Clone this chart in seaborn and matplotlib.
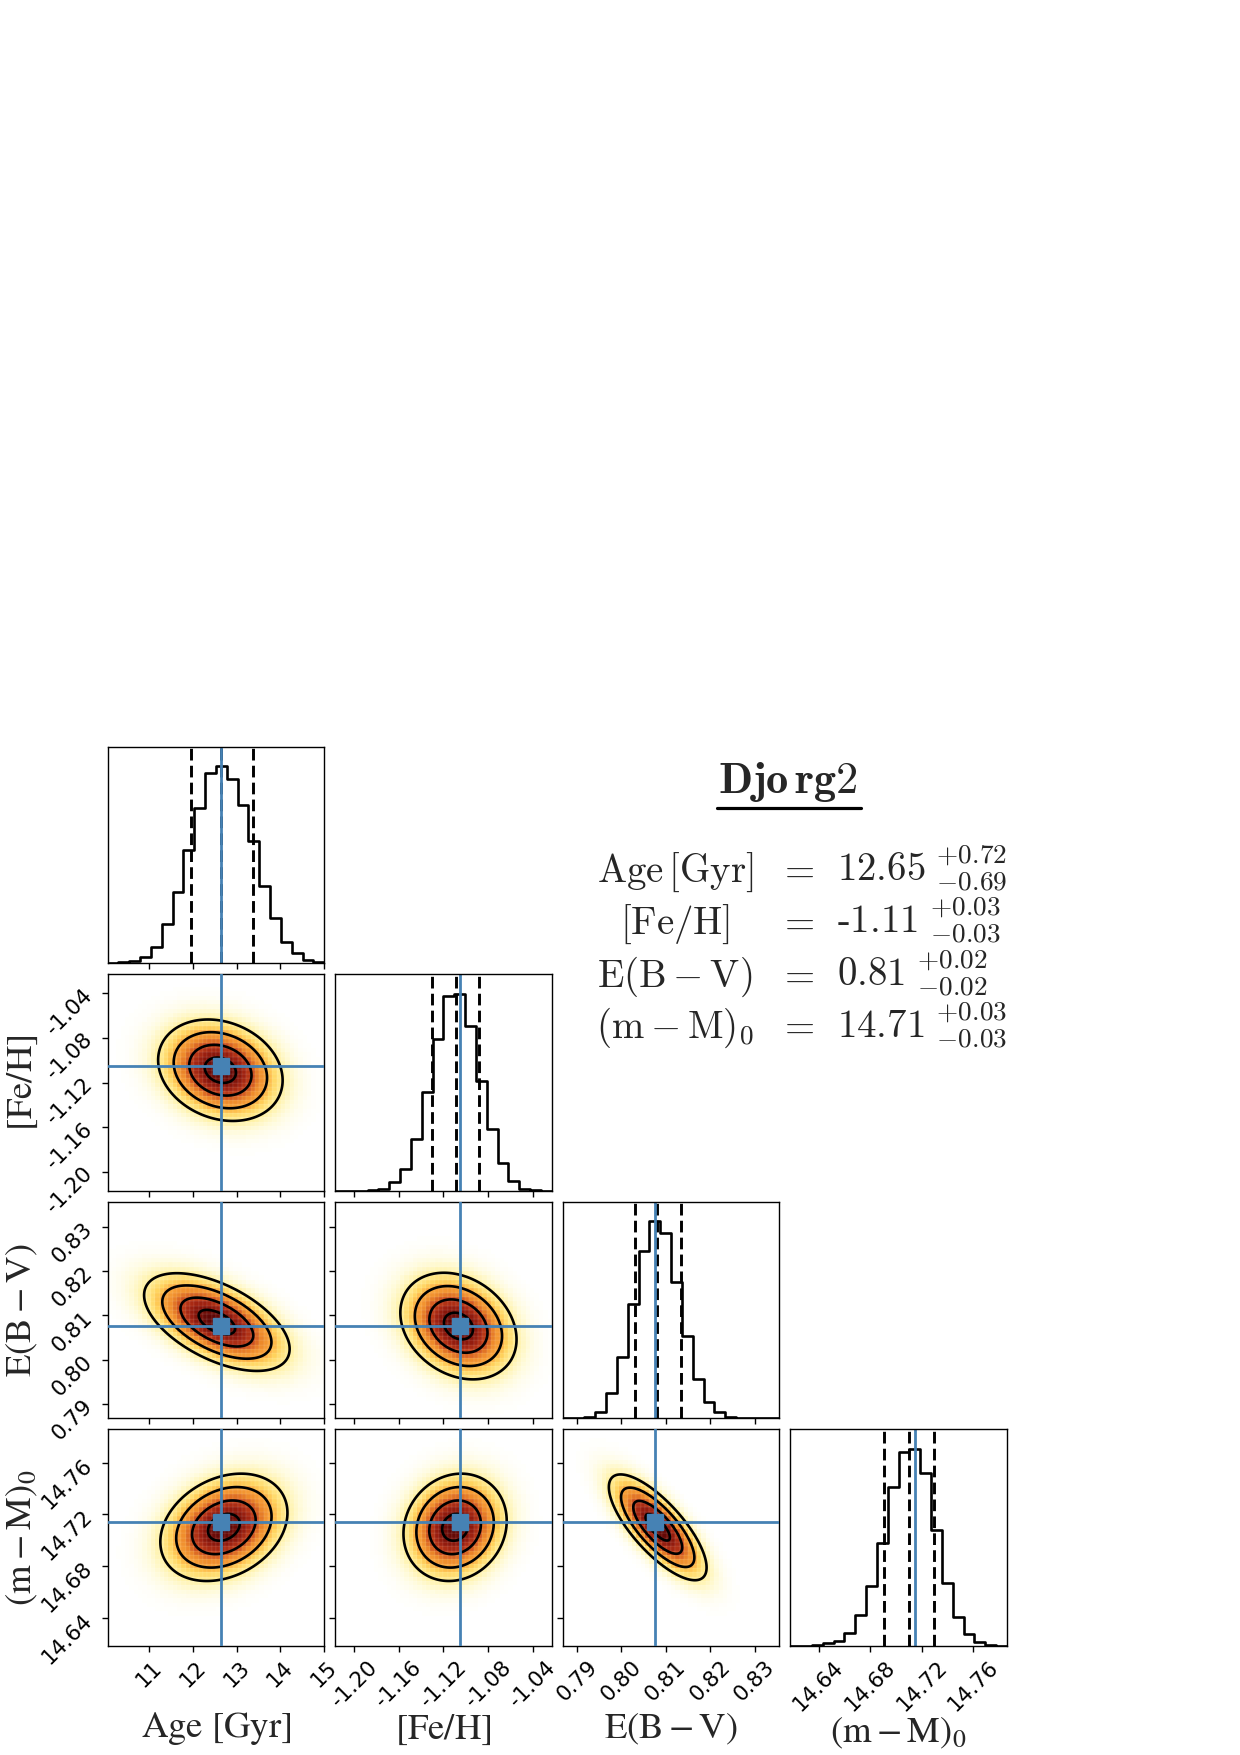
import numpy as np
import pandas as pd
import matplotlib
matplotlib.use("Agg")
import matplotlib.pyplot as plt
from matplotlib.colors import LinearSegmentedColormap
from matplotlib.lines import Line2D
import seaborn as sns

# ------------------------------------------------------------------ data
axis_labels = [r"$\mathrm{Age\ [Gyr]}$", r"$\mathrm{[Fe/H]}$",
               r"$\mathrm{E(B-V)}$", r"$\mathrm{(m-M)_0}$"]

age_range = [10.055, 15.0]
feh_range = [-1.217, -1.023]
ebv_range = [0.7868, 0.8356]
dm_range = [14.618, 14.786]

# relative bin heights (20 bins across each range)
age_hist = [0.003, 0.005, 0.012, 0.032, 0.083, 0.198, 0.361, 0.576, 0.788, 0.966,
            1.000, 0.936, 0.803, 0.622, 0.393, 0.229, 0.110, 0.054, 0.019, 0.008]
feh_hist = [0.000, 0.000, 0.001, 0.003, 0.009, 0.043, 0.111, 0.264, 0.502, 0.769,
            0.990, 1.000, 0.837, 0.558, 0.315, 0.139, 0.051, 0.012, 0.003, 0.000]
ebv_hist = [0.000, 0.003, 0.009, 0.034, 0.128, 0.310, 0.579, 0.852, 1.000, 0.942,
            0.690, 0.417, 0.199, 0.085, 0.034, 0.009, 0.002, 0.000, 0.000, 0.000]
dm_hist = [0.000, 0.002, 0.005, 0.014, 0.025, 0.064, 0.157, 0.305, 0.525, 0.806,
           0.983, 1.000, 0.876, 0.589, 0.321, 0.145, 0.061, 0.019, 0.005, 0.002]

# 16th / 50th / 84th percentiles
age_q = [11.96, 12.65, 13.37]
feh_q = [-1.130, -1.109, -1.088]
ebv_q = [0.8031, 0.8080, 0.8134]
dm_q = [14.691, 14.710, 14.7295]

truths = [12.65, -1.105, 0.8076, 14.7145]

age_ticks = [11, 12, 13, 14, 15]
age_ticklabels = ["11", "12", "13", "14", "15"]
feh_ticks = [-1.20, -1.16, -1.12, -1.08, -1.04]
feh_ticklabels = ["-1.20", "-1.16", "-1.12", "-1.08", "-1.04"]
ebv_ticks = [0.79, 0.80, 0.81, 0.82, 0.83]
ebv_ticklabels = ["0.79", "0.80", "0.81", "0.82", "0.83"]
dm_ticks = [14.64, 14.68, 14.72, 14.76]
dm_ticklabels = ["14.64", "14.68", "14.72", "14.76"]

# 2-D panel shapes: (row, col, cx, cy, sx, sy, rho)
pair_rows = [1, 2, 2, 3, 3, 3]
pair_cols = [0, 0, 1, 0, 1, 2]
pair_cx = [12.63, 12.55, -1.1066, 12.71, -1.1096, 0.8082]
pair_cy = [-1.109, 0.8085, 0.8076, 14.710, 14.710, 14.710]
pair_sx = [0.71, 0.83, 0.026, 0.725, 0.0231, 0.0055]
pair_sy = [0.0227, 0.0055, 0.0060, 0.0208, 0.0208, 0.0205]
pair_rho = [-0.2, -0.55, -0.25, 0.27, 0.12, -0.76]

sigma_levels = [2.0, 1.5, 1.0, 0.5]

title_text = r"$\mathbf{Djo\,rg2}$"
summary_labels = [r"$\mathrm{Age\,[Gyr]}$", r"$\mathrm{[Fe/H]}$",
                  r"$\mathrm{E(B-V)}$", r"$\mathrm{(m-M)_0}$"]
summary_values = [r"$12.65\;{}^{{+}0.72}_{{-}0.69}$", r"$\text{-}1.11\;{}^{{+}0.03}_{{-}0.03}$",
                  r"$0.81\;{}^{{+}0.02}_{{-}0.02}$", r"$14.71\;{}^{{+}0.03}_{{-}0.03}$"]

# ------------------------------------------------------------------ style
sns.set_style("ticks")
plt.rcParams["font.family"] = ["DejaVu Sans"]
plt.rcParams["axes.edgecolor"] = "black"
plt.rcParams["axes.linewidth"] = 1.0
plt.rcParams["xtick.color"] = "black"
plt.rcParams["ytick.color"] = "black"

ranges = [age_range, feh_range, ebv_range, dm_range]
hists = [age_hist, feh_hist, ebv_hist, dm_hist]
quants = [age_q, feh_q, ebv_q, dm_q]
ticks = [age_ticks, feh_ticks, ebv_ticks, dm_ticks]
ticklabels = [age_ticklabels, feh_ticklabels, ebv_ticklabels, dm_ticklabels]

truth_color = "#4682b4"
cmap = LinearSegmentedColormap.from_list(
    "dens",
    [(0.0, "#ffffff"), (0.05, "#fffbdc"), (0.135, "#fff09a"), (0.24, "#ffd35c"),
     (0.32, "#fba83c"), (0.46, "#ee8a2a"), (0.61, "#c5421a"), (0.76, "#9c2010"),
     (0.88, "#7a1008"), (1.0, "#580505")])

fig, axes = plt.subplots(4, 4, figsize=(12.4, 17.55), dpi=100)
fig.subplots_adjust(left=0.0867, right=0.8121, bottom=0.0621, top=0.5746,
                    wspace=0.05, hspace=0.05)

n = 4
for i in range(n):
    for j in range(n):
        ax = axes[i, j]
        if j > i:
            ax.set_axis_off()
            continue
        ax.tick_params(direction="out", length=4.5, width=1.0, labelsize=15.5)
        if i == j:
            lo, hi = ranges[i]
            nb = len(hists[i])
            edges = np.linspace(lo, hi, nb + 1)
            df = pd.DataFrame({"v": 0.5 * (edges[1:] + edges[:-1]),
                               "w": np.asarray(hists[i], dtype=float)})
            sns.histplot(data=df, x="v", weights="w", bins=nb, binrange=(lo, hi),
                         element="step", fill=False, color="black", linewidth=1.9,
                         ax=ax)
            for q in quants[i]:
                ax.axvline(q, color="black", lw=2.1, ls=(0, (4.0, 1.8)))
            ax.axvline(truths[i], color=truth_color, lw=2.0)
            ax.set_xlim(lo, hi)
            ax.set_ylim(0, 1.1 * max(hists[i]))
            ax.set_yticks([])
            ax.set_ylabel("")
        ax.set_xticks(ticks[j])
        if i == n - 1:
            ax.set_xticklabels(ticklabels[j], rotation=45)
            ax.set_xlabel(axis_labels[j], fontsize=26.5, math_fontfamily="stix")
            ax.xaxis.set_label_coords(0.5, -0.295 if j < 3 else -0.315)
        else:
            ax.set_xticklabels([])
            ax.set_xlabel("")

for k in range(len(pair_rows)):
    i, j = pair_rows[k], pair_cols[k]
    ax = axes[i, j]
    xr, yr = ranges[j], ranges[i]
    xe = np.linspace(xr[0], xr[1], 51)
    ye = np.linspace(yr[0], yr[1], 51)
    xc = 0.5 * (xe[1:] + xe[:-1])
    yc = 0.5 * (ye[1:] + ye[:-1])
    cx, cy, sx, sy, rho = pair_cx[k], pair_cy[k], pair_sx[k], pair_sy[k], pair_rho[k]

    def dens(X, Y):
        dx = (X - cx) / sx
        dy = (Y - cy) / sy
        return np.exp(-0.5 * (dx ** 2 - 2 * rho * dx * dy + dy ** 2) / (1 - rho ** 2))

    X, Y = np.meshgrid(xc, yc)
    ax.pcolormesh(xe, ye, dens(X, Y), cmap=cmap, vmin=0, vmax=1,
                  edgecolors=(1, 1, 1, 0.45), linewidth=0.12, shading="flat",
                  antialiased=True, zorder=1)
    xf = np.linspace(xr[0], xr[1], 300)
    yf = np.linspace(yr[0], yr[1], 300)
    XF, YF = np.meshgrid(xf, yf)
    lv = sorted(np.exp(-0.5 * np.array(sigma_levels) ** 2))
    ax.contour(XF, YF, dens(XF, YF), levels=lv, colors="black", linewidths=1.9, zorder=2)
    ax.axvline(truths[j], color=truth_color, lw=2.0, zorder=3)
    ax.axhline(truths[i], color=truth_color, lw=2.0, zorder=3)
    ax.plot([truths[j]], [truths[i]], marker="s", ms=12, color=truth_color, zorder=4)
    ax.set_xlim(*xr)
    ax.set_ylim(*yr)
    ax.set_yticks(ticks[i])
    if j == 0:
        ax.set_yticklabels(ticklabels[i], rotation=45)
        ax.set_ylabel(axis_labels[i], fontsize=26.5, math_fontfamily="stix")
        ax.yaxis.set_label_coords(-0.31, 0.5)
    else:
        ax.set_yticklabels([])
        ax.set_ylabel("")

# ------------------------------------------------------------------ summary text
W, H = 1240.0, 1755.0
title = fig.text(788 / W, 1 - 793 / H, title_text, fontsize=32, ha="center",
                 va="baseline", math_fontfamily="cm")
baselines = [881.7, 934.0, 986.7, 1038.3]
for lab, val, yb in zip(summary_labels, summary_values, baselines):
    fig.text(675 / W, 1 - yb / H, lab, fontsize=28, ha="center", va="baseline",
             math_fontfamily="cm")
    fig.text(796 / W, 1 - yb / H, r"$=$", fontsize=28, ha="center", va="baseline",
             math_fontfamily="cm")
    fig.text(837 / W, 1 - yb / H, val, fontsize=28, ha="left", va="baseline",
             math_fontfamily="cm")

renderer = fig.canvas.get_renderer()
bb = title.get_window_extent(renderer)
fig.add_artist(Line2D([(bb.x0 - 1) / W, (bb.x1 + 3) / W], [1 - 807.7 / H] * 2,
                      transform=fig.transFigure, color="black", lw=2.3))

fig.savefig("out.png", dpi=100)
